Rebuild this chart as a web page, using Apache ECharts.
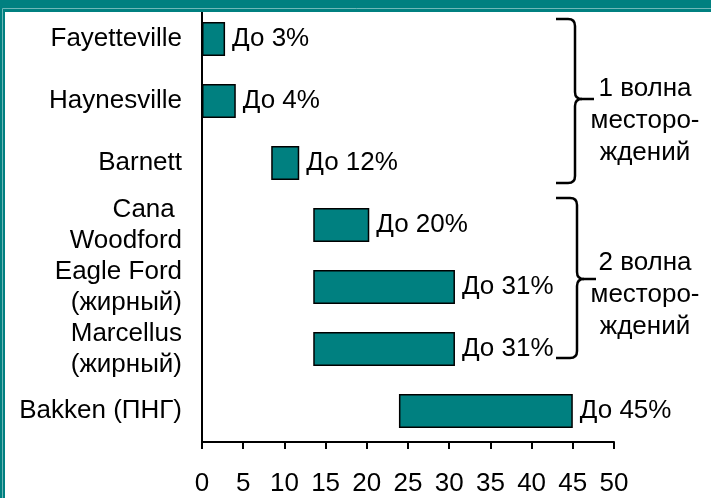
<!DOCTYPE html>
<html>
<head>
<meta charset="utf-8">
<script src="https://cdn.jsdelivr.net/npm/echarts@6/dist/echarts.min.js"></script>
<style>
html,body{margin:0;padding:0;background:#fff;}
#c{width:711px;height:498px;}
</style>
</head>
<body>
<div id="c"></div>
<script>
// ---- data ----
const categories = ['Fayetteville', 'Haynesville', 'Barnett', 'Cana \nWoodford', 'Eagle Ford\n(жирный)', 'Marcellus\n(жирный)', 'Bakken (ПНГ)'];
const rangeStart = [0, 0, 8.4, 13.5, 13.5, 13.5, 23.9];
const rangeEnd = [2.8, 4.1, 11.8, 20.3, 30.7, 30.7, 45];
const upToPct = [3, 4, 12, 20, 31, 31, 45];
const xMin = 0, xMax = 50, xStep = 5;
const groupNames = ['1 волна\nместоро-\nждений', '2 волна\nместоро-\nждений'];

// ---- styles ----
const TEAL = '#008080';
const FONT = 'Liberation Sans, Arial, sans-serif';
const FS = 26;

const spanLen = rangeEnd.map((e, i) => +(e - rangeStart[i]).toFixed(2));

function brace(x0, xv, xt, top, mid, bot, r) {
  const st = {stroke: '#000', lineWidth: 2.5, fill: null};
  const L = (a, b, c, d) => ({type: 'line', shape: {x1: a, y1: b, x2: c, y2: d}, style: st, z: 50});
  const Q = (a, b, cx, cy, c, d) => ({type: 'bezierCurve', shape: {x1: a, y1: b, cpx1: cx, cpy1: cy, x2: c, y2: d}, style: st, z: 50});
  return [
    L(x0, top, xv - r, top),
    Q(xv - r, top, xv, top, xv, top + r),
    L(xv, top + r, xv, mid - r),
    Q(xv, mid - r, xv, mid, xv + r, mid),
    L(xv + r, mid, xt, mid),
    Q(xv + r, mid, xv, mid, xv, mid + r),
    L(xv, mid + r, xv, bot - r),
    Q(xv, bot - r, xv, bot, xv - r, bot),
    L(xv - r, bot, x0, bot)
  ];
}

const chart = echarts.init(document.getElementById('c'), null, {renderer: 'canvas'});
chart.setOption({
  animation: false,
  backgroundColor: '#ffffff',
  grid: {left: 202, right: 97, top: 8, bottom: 56, containLabel: false},
  xAxis: {
    type: 'value', min: xMin, max: xMax, interval: xStep,
    axisLine: {show: true, lineStyle: {color: '#000', width: 2}},
    axisTick: {show: true, length: 7, lineStyle: {color: '#000', width: 2}},
    splitLine: {show: false},
    axisLabel: {color: '#000', fontFamily: FONT, fontSize: FS, margin: 29}
  },
  yAxis: {
    type: 'category', data: categories, inverse: true,
    axisLine: {show: true, lineStyle: {color: '#000', width: 2}},
    axisTick: {show: false},
    axisLabel: {color: '#000', fontFamily: FONT, fontSize: FS, lineHeight: 31, margin: 20, align: 'right'}
  },
  series: [
    {
      type: 'bar', stack: 'r', data: rangeStart, barWidth: 34,
      itemStyle: {color: 'transparent'}, silent: true
    },
    {
      type: 'bar', stack: 'r', data: spanLen, barWidth: 34,
      itemStyle: {color: TEAL, borderColor: '#000', borderWidth: 1.5},
      label: {
        show: true, position: 'right', distance: 7,
        color: '#000', fontFamily: FONT, fontSize: FS,
        formatter: p => 'До ' + upToPct[p.dataIndex] + '%'
      }
    }
  ],
  graphic: [
    {type: 'rect', left: 0, top: 0, shape: {width: 711, height: 12}, style: {fill: TEAL}, z: 100},
    {type: 'rect', left: 0, top: 0, shape: {width: 5, height: 498}, style: {fill: TEAL}, z: 100},
    {type: 'line', shape: {x1: 2.5, y1: 8.5, x2: 711, y2: 8.5}, style: {stroke: '#6fb8b8', lineWidth: 1}, z: 101},
    {type: 'line', shape: {x1: 2.5, y1: 8.5, x2: 2.5, y2: 498}, style: {stroke: '#6fb8b8', lineWidth: 1}, z: 101}
  ].concat(brace(556, 575, 594, 19, 99, 183, 7))
   .concat(brace(556, 577, 596, 198, 279, 358, 7))
   .concat([
    {type: 'text', x: 645, y: 121, style: {text: groupNames[0], fontSize: FS, fontFamily: FONT, lineHeight: 32, fill: '#000', align: 'center', verticalAlign: 'middle'}, z: 50},
    {type: 'text', x: 645, y: 295, style: {text: groupNames[1], fontSize: FS, fontFamily: FONT, lineHeight: 32, fill: '#000', align: 'center', verticalAlign: 'middle'}, z: 50}
  ])
});
</script>
</body>
</html>
